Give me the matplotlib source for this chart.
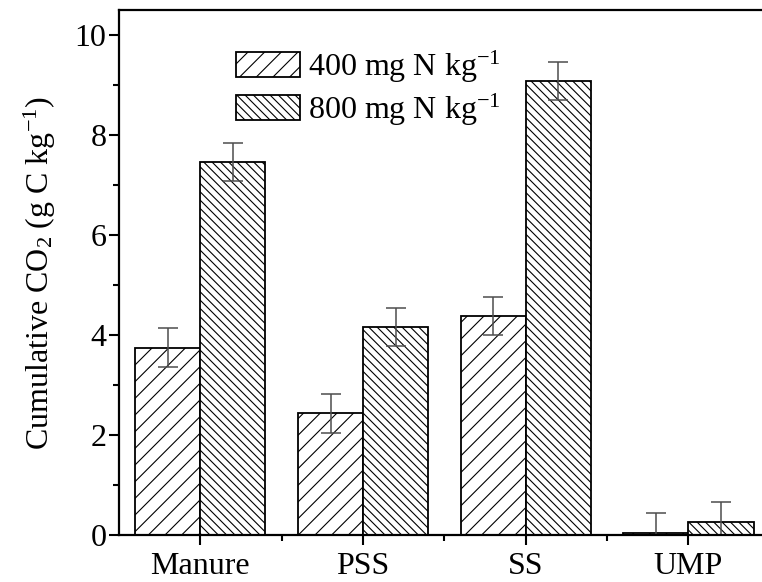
import numpy as np
import matplotlib
matplotlib.use('Agg')
import matplotlib.pyplot as plt

# 数据
categories = ['Manure', 'PSS', 'SS', 'UMP']
low_n = [3.74, 2.43, 4.38, 0.04]      # 400 mg N kg-1
high_n = [7.46, 4.15, 9.08, 0.26]     # 800 mg N kg-1
low_err = [0.39, 0.39, 0.38, 0.40]
high_err = [0.38, 0.38, 0.38, 0.40]
labels = ['400 mg N kg$^{-1}$', '800 mg N kg$^{-1}$']

plt.rcParams['font.family'] = ['Liberation Serif', 'DejaVu Serif']
plt.rcParams['mathtext.fontset'] = 'custom'
plt.rcParams['mathtext.rm'] = 'Liberation Serif'
plt.rcParams['mathtext.it'] = 'Liberation Serif:italic'
plt.rcParams['hatch.linewidth'] = 0.8

fig = plt.figure(figsize=(7.62, 5.82), dpi=100)
ax = fig.add_axes([0.1562, 0.0808, 0.854, 0.902])

x = np.arange(len(categories))
w = 0.4
ekw = dict(ecolor='#4d4d4d', elinewidth=1.1, capsize=7.5, capthick=1.1)
ax.bar(x - w/2, low_n, w, yerr=low_err, color='white', edgecolor='black',
       linewidth=1.3, hatch='//', label=labels[0], error_kw=ekw)
ax.bar(x + w/2, high_n, w, yerr=high_err, color='white', edgecolor='black',
       linewidth=1.3, hatch='\\\\\\\\', label=labels[1], error_kw=ekw)

ax.set_xlim(-0.5, 3.5)
ax.set_ylim(0, 10.5)
ax.set_xticks(x)
ax.set_xticklabels(categories)
ax.set_xticks([0.5, 1.5, 2.5], minor=True)
ax.set_yticks([0, 2, 4, 6, 8, 10])
ax.set_yticks([1, 3, 5, 7, 9], minor=True)
ax.tick_params(axis='both', which='major', direction='out', length=7, width=1.5,
               labelsize=23, pad=2)
ax.tick_params(axis='x', which='major', pad=5)
ax.tick_params(axis='both', which='minor', direction='out', length=4, width=1.5)
ax.set_ylabel('Cumulative CO$_2$ (g C kg$^{-1}$)', fontsize=23, labelpad=12)
for s in ax.spines.values():
    s.set_linewidth(1.6)

ax.legend(loc='upper left', bbox_to_anchor=(0.18, 0.927), frameon=False,
          fontsize=23, borderpad=0, handlelength=2.0, handleheight=0.82,
          handletextpad=0.25, labelspacing=0.22, borderaxespad=0)

fig.savefig('out.png', dpi=100)
